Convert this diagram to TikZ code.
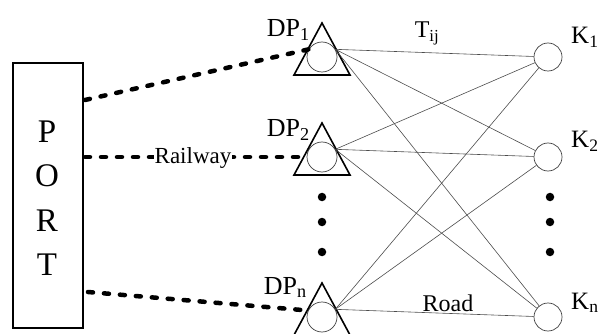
\documentclass[tikz,border=0pt]{standalone}
\usepackage{fontspec}
\setmainfont{Liberation Serif}
\usetikzlibrary{calc}
\begin{document}
\begin{tikzpicture}[x=1pt,y=-1pt,
  portbox/.style={draw, line width=1.2pt, minimum width=70pt, minimum height=265pt, inner sep=0pt},
  portletter/.style={font=\fontsize{33}{33}\selectfont, anchor=base},
  dpcirc/.style={draw=black!75, line width=0.7pt, circle, minimum size=30pt, inner sep=0pt},
  kcirc/.style={draw=black!75, line width=0.7pt, circle, minimum size=28pt, inner sep=0pt},
  tri/.style={line width=1.6pt, line join=miter},
  rail/.style={line width=4.5pt, dash pattern=on 5pt off 11pt, line cap=round},
  road/.style={draw=black!70, line width=0.6pt},
  dplabel/.style={font=\fontsize{26}{26}\selectfont, anchor=base east, inner sep=0pt},
  klabel/.style={font=\fontsize{25}{25}\selectfont, anchor=base west, inner sep=0pt},
  linklabel/.style={font=\fontsize{24}{24}\selectfont, anchor=base, inner sep=0pt},
  dot/.style={fill=black, circle, minimum size=8.5pt, inner sep=0pt}
]
\useasboundingbox (0,0) rectangle (600,334);

% port
\node[portbox] (port) at (48,195.5) {};
\node[portletter] (lp) at (47,143) {P};
\node[portletter] (lo) at (47,186) {O};
\node[portletter] (lr) at (47,231) {R};
\node[portletter] (lt) at (47,275) {T};

% distribution points: triangle with inscribed circle
\foreach \n/\yy in {1/57, 2/157, n/317}{
  \node[dpcirc] (dp\n) at (322,\yy) {};
  \draw[tri] ($(dp\n)+(0,-34)$) -- ($(dp\n)+(28,18)$) -- ($(dp\n)+(-28,18)$) -- cycle;
}

% customers
\node[kcirc] (k1) at (548,57) {};
\node[kcirc] (k2) at (548,157) {};
\node[kcirc] (kn) at (548,317) {};

% road links from every distribution point to every customer
\foreach \d in {1,2,n}{
  \foreach \k in {1,2,n}{
    \draw[road] (dp\d.30) -- (k\k);
  }
}

% railway links from the port
\coordinate (r1) at (85,100);
\coordinate (r2) at (85,157);
\coordinate (r3) at (88,292);
\draw[rail] (r1) -- (dp1.150);
\draw[rail] (r2) -- (dp2.west);
\draw[rail] (r3) -- (dpn.155);
\node[font=\fontsize{23}{23}\selectfont, fill=white, inner sep=1pt] (rail) at (193,158) {Railway};

% labels
\node[dplabel] (ldp1) at (310,37) {DP\textsubscript{1}};
\node[dplabel] (ldp2) at (310,137) {DP\textsubscript{2}};
\node[dplabel] (ldpn) at (307,294) {DP\textsubscript{n}};
\node[klabel] (lk1) at (571,44) {K\textsubscript{1}};
\node[klabel] (lk2) at (571,148) {K\textsubscript{2}};
\node[klabel] (lkn) at (571,309) {K\textsubscript{n}};
\node[linklabel] (tij) at (427,38) {T\textsubscript{ij}};
\node[linklabel] (road) at (448,311) {Road};

% ellipsis dots
\foreach \yy [count=\i] in {197,222,252}{
  \node[dot] (ld\i) at (322,\yy) {};
  \node[dot] (rd\i) at (550,\yy) {};
}
\end{tikzpicture}
\end{document}
